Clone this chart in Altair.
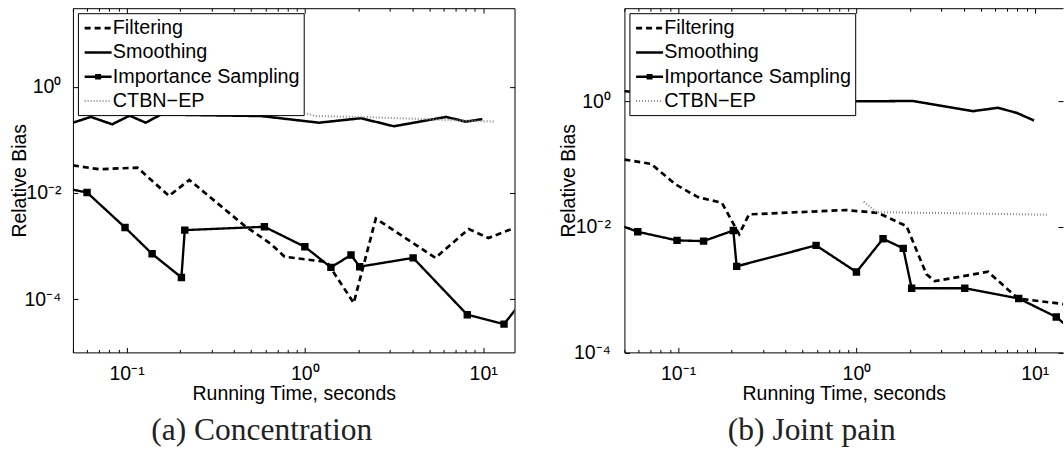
import altair as alt
import pandas as pd

SANS = "Liberation Sans, Arial, Helvetica, sans-serif"
SERIF = "Liberation Serif, Times New Roman, serif"

SERIES = ["Filtering", "Smoothing", "Importance Sampling", "CTBN−EP"]
SERIES_COLORS = ["black", "black", "black", "#8c8c8c"]
SERIES_DASH = [[6, 4], [1, 0], [1, 0], [1, 2]]
SERIES_WIDTH = [2.7, 2.2, 2.5, 3.5]
IS_NAME = "Importance Sampling"

# ---------- (a) Concentration ----------
A_FILT_T = [0.05, 0.07, 0.115, 0.173, 0.225, 0.46, 0.645, 0.77, 1.33, 1.88, 2.5, 5.4, 8.3, 10.7, 15]
A_FILT_B = [0.033, 0.028, 0.030, 0.0088, 0.0176, 0.0024, 0.0011, 0.00063, 0.00050, 8.5e-5, 0.0033, 0.0006, 0.0021, 0.00142, 0.0022]
A_SMOO_T = [0.05, 0.063, 0.083, 0.104, 0.128, 0.156, 0.57, 1.2, 2.06, 3.16, 6.2, 8.0, 9.9]
A_SMOO_B = [0.21, 0.27, 0.196, 0.285, 0.21, 0.30, 0.28, 0.21, 0.255, 0.18, 0.27, 0.22, 0.245]
A_IMPS_T = [0.047, 0.06, 0.098, 0.139, 0.203, 0.212, 0.593, 1.0, 1.40, 1.815, 2.03, 4.05, 8.15, 13.1, 16]
A_IMPS_B = [0.012, 0.0102, 0.00224, 0.000716, 0.000257, 0.0020, 0.00231, 0.00097, 0.000398, 0.00068, 0.00041, 0.0006, 5.1e-5, 3.4e-5, 8e-5]
A_CTBN_T = [1.03, 1.15, 2.0, 4.0, 8.0, 11.6]
A_CTBN_B = [0.31, 0.28, 0.27, 0.25, 0.23, 0.22]

# ---------- (b) Joint pain ----------
B_FILT_T = [0.05, 0.0705, 0.097, 0.129, 0.176, 0.22, 0.25, 0.87, 1.32, 1.91, 2.47, 2.75, 5.47, 8.05, 15]
B_FILT_B = [0.117, 0.10, 0.047, 0.0296, 0.024, 0.0076, 0.0157, 0.0184, 0.0166, 0.0102, 0.00175, 0.00136, 0.00192, 0.00072, 0.00058]
B_SMOO_T = [0.05, 0.1, 0.3, 0.6, 1.0, 2.08, 4.5, 6.2, 7.9, 9.9]
B_SMOO_B = [1.43, 1.3, 1.1, 1.0, 0.99, 1.0, 0.69, 0.78, 0.65, 0.49]
B_IMPS_T = [0.047, 0.0594, 0.0986, 0.139, 0.204, 0.213, 0.594, 1.0, 1.41, 1.83, 2.04, 4.05, 8.13, 13.2, 16]
B_IMPS_B = [0.0106, 0.0083, 0.00605, 0.0059, 0.0087, 0.00234, 0.00504, 0.0019, 0.00642, 0.00452, 0.00105, 0.00105, 0.00072, 0.000366, 0.00023]
B_CTBN_T = [1.1, 1.3, 3.0, 6.0, 11.7]
B_CTBN_B = [0.025, 0.017, 0.0165, 0.016, 0.0155]

# ---------- axes ----------
T_MIN = 0.05
A_T_MAX = 15
B_T_MAX = 14.4
A_Y_DOMAIN = [1e-5, 30]
B_Y_DOMAIN = [1e-4, 30]
X_MAJOR = [0.1, 1, 10]
X_MAJOR_LABELS = ["10⁻¹", "10⁰", "10¹"]
X_MINOR = [0.05, 0.06, 0.07, 0.08, 0.09, 0.2, 0.3, 0.4, 0.5, 0.6, 0.7, 0.8, 0.9,
           2, 3, 4, 5, 6, 7, 8, 9]
Y_MAJOR = [1e-4, 1e-2, 1]
Y_MAJOR_LABELS = ["10⁻⁴", "10⁻²", "10⁰"]

W_A, W_B, H = 442, 439, 344.5
FS = 19.5


def label_expr(vals, labs):
    parts = [f"abs(log(datum.value) - log({v})) < 0.01 ? '{l}'" for v, l in zip(vals, labs)]
    return " : ".join(parts) + " : ''"


MAJOR_TEST = "abs(log(datum.value)/LN10 - round(log(datum.value)/LN10)) < 0.001"
TICK_SIZE = {"condition": {"test": MAJOR_TEST, "value": 5}, "value": 3}


def frame(groups):
    rows = []
    for name, ts, bs in groups:
        for t, b in zip(ts, bs):
            rows.append({"series": name, "t": t, "bias": b})
    return pd.DataFrame(rows)


LEG = alt.Legend(
    title=None, orient="top-left", offset=5, padding=3.5,
    fillColor="white", strokeColor="black", cornerRadius=0,
    labelFont=SANS, labelFontSize=19.8, labelColor="black", labelLimit=0,
    labelExpr="datum.label + '\u00a0'",
    labelOffset=3.2, rowPadding=2.3, symbolSize=400, symbolOffset=5.2,
    symbolType={"expr": f"datum.value === '{IS_NAME}' ? "
                        f"'M-1.35,0H1.35M-0.3,-0.16H0.3M-0.3,0.16H0.3' : 'M-1.35,0H1.35'"},
)


def panel(df, t_max, y_dom, W, caption, right_border, title_x, lab_pad):
    xsc = alt.Scale(type="log", domain=[T_MIN, t_max], nice=False)
    ysc = alt.Scale(type="log", domain=y_dom, nice=False)
    color = alt.Color("series:N", scale=alt.Scale(domain=SERIES, range=SERIES_COLORS), legend=LEG)
    dash = alt.StrokeDash("series:N", scale=alt.Scale(domain=SERIES, range=SERIES_DASH), legend=LEG)
    width = alt.StrokeWidth("series:N", scale=alt.Scale(domain=SERIES, range=SERIES_WIDTH), legend=LEG)

    ax_x_lab = alt.Axis(orient="bottom", values=X_MAJOR, labelExpr=label_expr(X_MAJOR, X_MAJOR_LABELS),
                        ticks=False, tickSize=0, domain=True, domainColor="black", domainWidth=1,
                        grid=False, labelPadding=26.8, labelBaseline="alphabetic", labelFlush=False,
                        labelFontSize=FS, title="Running Time, seconds", titleFontSize=FS,
                        titleFontWeight="normal", titleBaseline="alphabetic", titleY=47.5)
    ax_y_lab = alt.Axis(orient="left", values=Y_MAJOR, labelExpr=label_expr(Y_MAJOR, Y_MAJOR_LABELS),
                        ticks=False, tickSize=0, domain=True, domainColor="black", domainWidth=1,
                        grid=False, labelPadding=lab_pad, labelFlush=False, labelFontSize=FS,
                        title="Relative Bias", titleFontSize=FS, titleFontWeight="normal",
                        titleBaseline="alphabetic", titleAngle=270, titleX=title_x, titleY=H / 2)
    ax_x_t1 = alt.Axis(orient="top", offset=-H, values=X_MAJOR + X_MINOR, labels=False, domain=False,
                       grid=False, title=None, tickSize=TICK_SIZE, tickColor="black", tickWidth=1)
    ax_x_t2 = alt.Axis(orient="bottom", offset=-H, values=X_MAJOR + X_MINOR, labels=False, domain=True,
                       domainColor="black", domainWidth=1, grid=False, title=None,
                       tickSize=TICK_SIZE, tickColor="black", tickWidth=1)
    ax_y_t1 = alt.Axis(orient="right", offset=-W, values=Y_MAJOR, labels=False, domain=False,
                       grid=False, title=None, tickSize=5, tickColor="black", tickWidth=1)
    ax_y_t2 = alt.Axis(orient="left", offset=-W, values=Y_MAJOR, labels=False, domain=right_border,
                       domainColor="black", domainWidth=1, grid=False, title=None,
                       tickSize=5, tickColor="black", tickWidth=1)

    base = alt.Chart(df)
    lines = base.transform_filter(alt.datum.series != IS_NAME).mark_line(clip=True).encode(
        x=alt.X("t:Q", scale=xsc, axis=ax_x_lab),
        y=alt.Y("bias:Q", scale=ysc, axis=ax_y_lab),
        color=color, strokeDash=dash, strokeWidth=width,
    )
    is_line = base.transform_filter(alt.datum.series == IS_NAME).mark_line(clip=True).encode(
        x=alt.X("t:Q", scale=xsc, axis=ax_x_t1),
        y=alt.Y("bias:Q", scale=ysc, axis=ax_y_t1),
        color=color, strokeDash=dash, strokeWidth=width,
    )
    is_pts = base.transform_filter(alt.datum.series == IS_NAME).mark_point(
        shape="square", filled=True, size=55, color="black", opacity=1, clip=True
    ).encode(
        x=alt.X("t:Q", scale=xsc, axis=ax_x_t2),
        y=alt.Y("bias:Q", scale=ysc, axis=ax_y_t2),
    )
    return alt.layer(lines, is_line, is_pts).resolve_axis(x="independent", y="independent").properties(
        width=W, height=H,
        title=alt.TitleParams(caption, orient="bottom", anchor="middle", frame="group", dx=-32,
                              offset=37, baseline="alphabetic", font=SERIF, fontSize=31.5,
                              fontWeight="normal", color="#222"),
    )


df_a = frame([(SERIES[0], A_FILT_T, A_FILT_B), (SERIES[1], A_SMOO_T, A_SMOO_B),
              (SERIES[2], A_IMPS_T, A_IMPS_B), (SERIES[3], A_CTBN_T, A_CTBN_B)])
df_b = frame([(SERIES[0], B_FILT_T, B_FILT_B), (SERIES[1], B_SMOO_T, B_SMOO_B),
              (SERIES[2], B_IMPS_T, B_IMPS_B), (SERIES[3], B_CTBN_T, B_CTBN_B)])

left = panel(df_a, A_T_MAX, A_Y_DOMAIN, W_A, "(a) Concentration", True, -47.5, 12)
right = panel(df_b, B_T_MAX, B_Y_DOMAIN, W_B, "(b) Joint pain", False, -49.5, 14)

chart = alt.hconcat(left, right, spacing=43).resolve_scale(
    color="independent", strokeDash="independent", strokeWidth="independent"
).properties(
    padding={"left": 9, "top": 7, "right": 0, "bottom": 0},
    background="white",
).configure_view(stroke=None).configure_axis(
    labelFont=SANS, titleFont=SANS, labelColor="black", titleColor="black",
).configure_legend(
    labelFont=SANS,
)

chart.save("out.html", embed_options={"renderer": "svg", "actions": False})
